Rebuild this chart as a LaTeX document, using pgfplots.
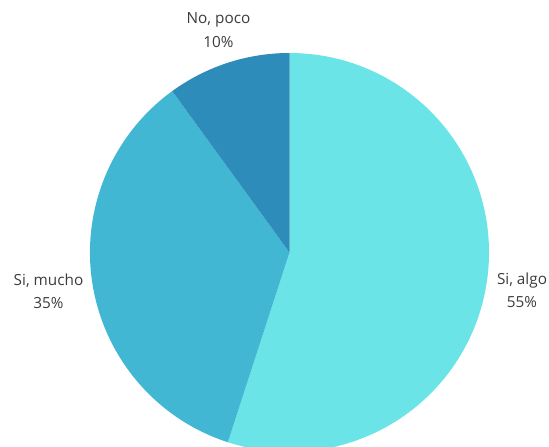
\documentclass[border=0pt]{standalone}
\usepackage{pgfplots}
\pgfplotsset{compat=1.18}
\usepackage{fontspec}
\setmainfont{Open Sans}
\definecolor{algo}{HTML}{6BE4E7}
\definecolor{mucho}{HTML}{42B7D4}
\definecolor{poco}{HTML}{2D8CB9}
\definecolor{txt}{HTML}{3C3C3C}
\begin{document}
\begin{tikzpicture}
\def\vA{55}\def\vB{35}\def\vC{10}
\begin{axis}[
  scale only axis, width=549pt, height=447pt,
  xmin=0, xmax=549, ymin=0, ymax=447,
  hide axis, clip=true,
]
\addplot[draw=none] coordinates {(0,0) (549,447)};
\def\cx{289.5}\def\cy{194.5}\def\rr{199.5}
\pgfmathsetmacro{\aA}{90-3.6*\vA}
\pgfmathsetmacro{\aB}{\aA-3.6*\vB}
\pgfmathsetmacro{\aC}{\aB-3.6*\vC}
\fill[algo] (axis cs:\cx,\cy) -- ++(90:\rr pt) arc[start angle=90, end angle=\aA, radius=\rr pt] -- cycle;
\fill[mucho] (axis cs:\cx,\cy) -- ++(\aA:\rr pt) arc[start angle=\aA, end angle=\aB, radius=\rr pt] -- cycle;
\fill[poco] (axis cs:\cx,\cy) -- ++(\aB:\rr pt) arc[start angle=\aB, end angle=\aC, radius=\rr pt] -- cycle;
\tikzset{lab/.style={anchor=base, text=txt, inner sep=0pt, font=\fontsize{15.3}{18}\selectfont}}
\node[lab] at (axis cs:218.5,423) {No, poco};
\node[lab] at (axis cs:218.5,399.5) {\vC\%};
\node[lab] at (axis cs:48.5,161) {Si, mucho};
\node[lab] at (axis cs:48.5,138) {\vB\%};
\node[lab] at (axis cs:522,162) {Si, algo};
\node[lab] at (axis cs:522,139) {\vA\%};
\end{axis}
\end{tikzpicture}
\end{document}
